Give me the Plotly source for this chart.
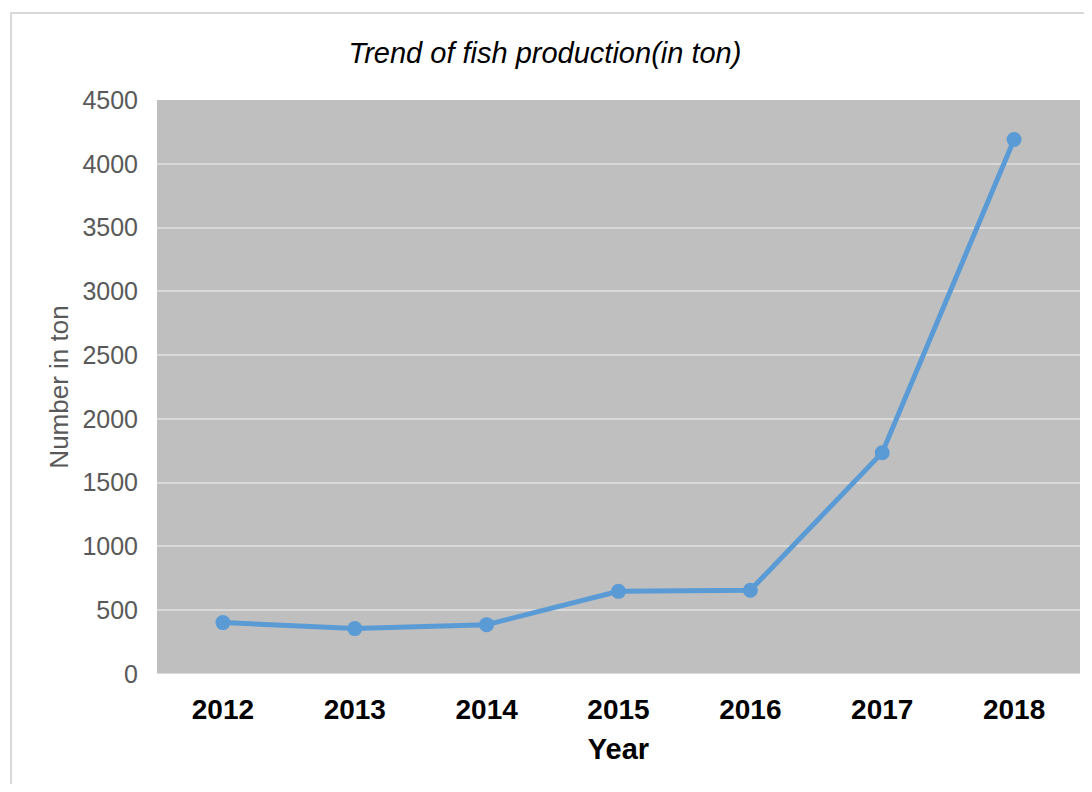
import plotly.graph_objects as go

years = ["2012", "2013", "2014", "2015", "2016", "2017", "2018"]
production = [403, 356, 387, 648, 657, 1735, 4190]
y_ticks = [0, 500, 1000, 1500, 2000, 2500, 3000, 3500, 4000, 4500]

# page body has an 8px margin; figure sized to fit the 1092x792 window
W, H = 1076, 776
L, R, T, B = 149, 4, 92, 110
pw, ph = W - L - R, H - T - B

fig = go.Figure()
fig.add_trace(go.Scatter(
    x=years, y=production, mode="lines+markers",
    line=dict(color="#5b9bd5", width=5),
    marker=dict(color="#5b9bd5", size=15),
    showlegend=False, cliponaxis=False,
))

fig.update_layout(
    width=W, height=H,
    margin=dict(l=L, r=R, t=T, b=B),
    paper_bgcolor="white",
    plot_bgcolor="#bfbfbf",
    font=dict(family="Liberation Sans, Arial, sans-serif"),
    title=dict(text="<i>Trend of fish production(in ton)</i>",
               x=537 / W, xanchor="center", y=1 - 45 / H, yanchor="middle",
               font=dict(size=29, color="black")),
    xaxis=dict(
        type="category", range=[-0.5, 6.5],
        showgrid=False, zeroline=False, showline=False,
        ticks="", tickfont=dict(size=28, color="black", weight="bold"),
        ticklabelstandoff=16,
        title=dict(text="<b>Year</b>", font=dict(size=29, color="black"), standoff=14),
    ),
    yaxis=dict(
        range=[0, 4500], tickvals=y_ticks, showgrid=True, gridcolor="#d9d9d9",
        gridwidth=2, zeroline=False, showline=False, ticks="",
        tickfont=dict(size=25, color="#595959"), ticklabelstandoff=18,
        title=dict(text="Number in ton", font=dict(size=26, color="#595959"), standoff=6),
    ),
    shapes=[
        dict(type="rect", xref="paper", yref="paper",
             x0=(3 - L) / pw, x1=(W + 80 - L) / pw,
             y0=(H - B - (H + 80)) / ph, y1=(H - B - 5) / ph,
             line=dict(color="#d9d9d9", width=2), fillcolor="rgba(0,0,0,0)", layer="below"),
        dict(type="line", xref="paper", yref="y", x0=0, x1=1, y0=0, y1=0,
             line=dict(color="#d9d9d9", width=2), layer="below"),
    ],
)

fig.write_html("out.html")
